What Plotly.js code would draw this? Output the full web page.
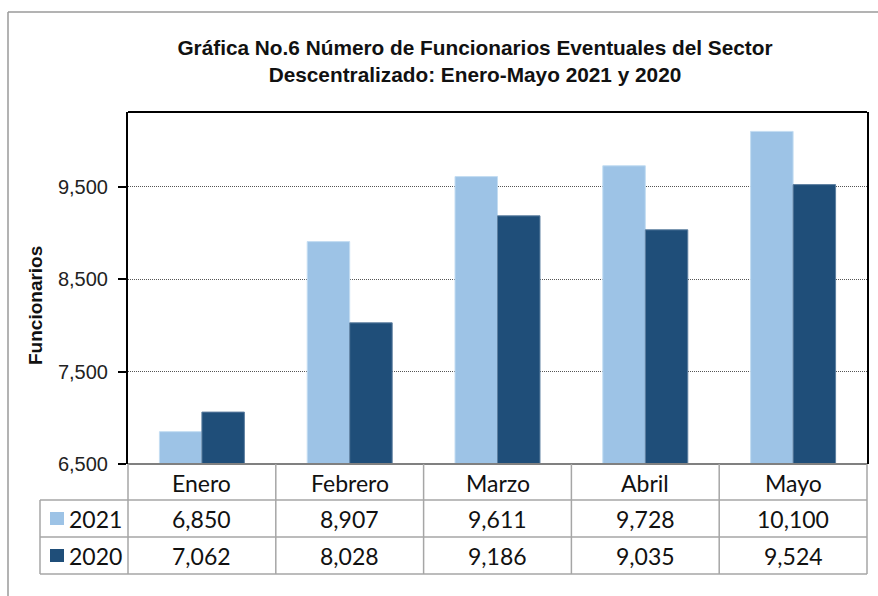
<!DOCTYPE html>
<html>
<head>
<meta charset="utf-8">
<script src="https://cdn.plot.ly/plotly-3.0.1.min.js"></script>
<style>html,body{margin:0;padding:0;background:#fff;}</style>
</head>
<body>
<div id="chart" style="width:878px;height:596px;"></div>
<script>
const categories = ["Enero", "Febrero", "Marzo", "Abril", "Mayo"];
const seriesNames = ["2021", "2020"];
const values2021 = [6850, 8907, 9611, 9728, 10100];
const values2020 = [7062, 8028, 9186, 9035, 9524];
const yTicks = [6500, 7500, 8500, 9500];

const colors = ["#9DC3E6", "#1F4E79"];
const W = 878, H = 596;
const mL = 128, mR = 11, mT = 112, mB = 132;
const pw = W - mL - mR, ph = H - mT - mB;
const px = v => (v - mL) / pw;          // pixel x -> paper x
const py = v => (H - mB - v) / ph;      // pixel y -> paper y

const fmt = v => v.toLocaleString("en-US");

const traces = [
  {type: "bar", name: seriesNames[0], x: categories, y: values2021,
   marker: {color: colors[0], line: {width: 1, color: "#C4DDF2"}}, hoverinfo: "skip"},
  {type: "bar", name: seriesNames[1], x: categories, y: values2020,
   marker: {color: colors[1], line: {width: 1, color: "#5D7FA0"}}, hoverinfo: "skip"}
];

const tableFont = {family: "Lato, 'Open Sans', sans-serif", size: 23, color: "#111"};
const gridCol = "#A6A6A6";
const shapes = [];
const annotations = [];

// outer chart border (left + top)
shapes.push({type: "line", xref: "paper", yref: "paper", x0: px(8), x1: px(8), y0: py(12), y1: py(600), line: {color: "#9A9A9A", width: 1.5}});
shapes.push({type: "line", xref: "paper", yref: "paper", x0: px(8), x1: px(880), y0: py(12), y1: py(12), line: {color: "#9A9A9A", width: 1.5}});
// plot top border
shapes.push({type: "line", xref: "paper", yref: "paper", x0: 0, x1: 1, y0: 1, y1: 1, line: {color: "#000", width: 2}});

// table horizontal lines
const rowY = [464, 500, 537, 574];
shapes.push({type: "line", xref: "paper", yref: "paper", x0: 0, x1: 1, y0: py(rowY[0]), y1: py(rowY[0]), line: {color: "#808080", width: 2}});
for (let i = 1; i < rowY.length; i++) {
  shapes.push({type: "line", xref: "paper", yref: "paper", x0: px(40), x1: 1, y0: py(rowY[i]), y1: py(rowY[i]), line: {color: gridCol, width: 1.5}});
}
// vertical lines
shapes.push({type: "line", xref: "paper", yref: "paper", x0: px(40), x1: px(40), y0: py(500), y1: py(574), line: {color: gridCol, width: 1.5}});
for (let k = 0; k <= categories.length; k++) {
  const xv = k / categories.length;
  shapes.push({type: "line", xref: "paper", yref: "paper", x0: xv, x1: xv, y0: py(464), y1: py(574), line: {color: gridCol, width: 1.5}});
}

// category header row
categories.forEach((c, i) => {
  annotations.push({xref: "x", yref: "paper", x: c, y: py(483), text: c, showarrow: false, font: tableFont, xanchor: "center", yanchor: "middle"});
});
// value rows
const rows = [values2021, values2020];
const rowCenters = [519, 556];
rows.forEach((vals, r) => {
  vals.forEach((v, i) => {
    annotations.push({xref: "x", yref: "paper", x: categories[i], y: py(rowCenters[r]), text: fmt(v), showarrow: false, font: tableFont, xanchor: "center", yanchor: "middle"});
  });
  // legend key
  shapes.push({type: "rect", xref: "paper", yref: "paper", x0: px(50), x1: px(64), y0: py(rowCenters[r] - 7), y1: py(rowCenters[r] + 6), line: {width: 0}, fillcolor: colors[r]});
  annotations.push({xref: "paper", yref: "paper", x: px(67), y: py(rowCenters[r]), text: seriesNames[r], showarrow: false, font: tableFont, xanchor: "left", yanchor: "middle"});
});

// y-axis title
annotations.push({xref: "paper", yref: "paper", x: px(35), y: py(306), text: "<b>Funcionarios</b>", textangle: -90, showarrow: false,
  font: {family: "'Liberation Sans', Arial, sans-serif", size: 19, color: "#111"}, xanchor: "center", yanchor: "middle"});

const layout = {
  width: W, height: H,
  margin: {l: mL, r: mR, t: mT, b: mB, pad: 0},
  paper_bgcolor: "#fff", plot_bgcolor: "#fff",
  showlegend: false,
  barmode: "group", bargap: 0.425, bargroupgap: 0,
  title: {
    text: "<b>Gráfica No.6 Número de Funcionarios Eventuales del Sector<br>Descentralizado: Enero-Mayo 2021 y 2020</b>",
    xref: "paper", x: px(475), xanchor: "center",
    yref: "container", y: 1 - 55 / H, yanchor: "middle",
    font: {family: "'Liberation Sans', Arial, sans-serif", size: 20.8, color: "#111"}
  },
  xaxis: {
    type: "category", showticklabels: false, ticks: "", showgrid: false,
    showline: false, zeroline: false, range: [-0.5, 4.5], fixedrange: true
  },
  yaxis: {
    range: [6500, 10310], tickvals: yTicks, tickformat: ",d",
    ticks: "outside", ticklen: 8, tickwidth: 2, tickcolor: "#000",
    ticklabelstandoff: 6,
    showline: true, linecolor: "#000", linewidth: 2, mirror: true,
    showgrid: true, gridcolor: "#555", gridwidth: 1, griddash: "1px,1px",
    zeroline: false,
    tickfont: {family: "'Liberation Sans', Arial, sans-serif", size: 20, color: "#222"}
  },
  shapes: shapes,
  annotations: annotations
};

Plotly.newPlot("chart", traces, layout, {displayModeBar: false, staticPlot: true});
</script>
</body>
</html>
